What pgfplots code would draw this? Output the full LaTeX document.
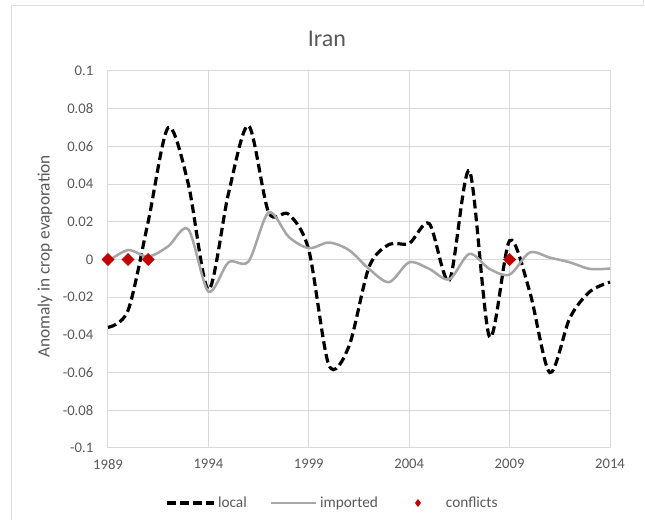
\documentclass[border=0pt]{standalone}
\usepackage{fontspec}
\setmainfont{Carlito}
\usepackage{pgfplots}
\pgfplotsset{compat=1.18}
\definecolor{txtgray}{HTML}{595959}
\definecolor{gridgray}{HTML}{D9D9D9}
\definecolor{impgray}{HTML}{A6A6A6}
\definecolor{confred}{HTML}{C00000}

\begin{document}
\begin{tikzpicture}
\path[use as bounding box] (-81pt,-54pt) rectangle (402.75pt,336pt);
% frame of the chart area
\draw[color=black!12, line width=0.75pt] (-72pt,-54pt) -- (-72pt,331.5pt) -- (401.25pt,331.5pt) -- (401.25pt,336pt);

\begin{axis}[
    scale only axis,
    width=376.5pt, height=282.75pt,
    xmin=1989, xmax=2014,
    ymin=-0.1, ymax=0.1,
    xtick={1989,1994,1999,2004,2009,2014},
    xticklabels={1989,1994,1999,2004,2009,2014},
    ytick={-0.1,-0.08,-0.06,-0.04,-0.02,0,0.02,0.04,0.06,0.08,0.1},
    yticklabels={-0.1,-0.08,-0.06,-0.04,-0.02,0,0.02,0.04,0.06,0.08,0.1},
    grid=major,
    major grid style={gridgray, line width=0.75pt},
    axis line style={gridgray, line width=0.75pt},
    major tick length=0pt,
    tick label style={font=\fontsize{11}{13}\selectfont, text=txtgray},
    xticklabel style={yshift=-5pt},
    yticklabel style={xshift=-7.5pt},
    title={Iran},
    title style={at={(axis description cs:0.436,1.063)}, anchor=center,
                 font=\fontsize{18}{20}\selectfont, text=txtgray},
    ylabel={Anomaly in crop evaporation},
    ylabel style={at={(axis description cs:-0.1255,0.508)}, anchor=center,
                  font=\fontsize{13}{15}\selectfont, text=txtgray},
    clip=false,
    legend columns=3,
    legend style={at={(0.448,-0.146)}, anchor=center, draw=none, fill=none,
                  font=\fontsize{11.5}{13}\selectfont, text=txtgray,
                  /tikz/every even column/.append style={column sep=15pt}},
]

% local
\addplot[black, line width=2.4pt, dash pattern=on 6.5pt off 3.2pt, smooth,
    legend image code/.code={\draw[black, line width=2.4pt, dash pattern=on 6.5pt off 3.2pt] (0pt,0pt) -- (35pt,0pt);}]
coordinates {
    (1989,-0.036) (1990,-0.027) (1991,0.020) (1992,0.070) (1993,0.040)
    (1994,-0.016) (1995,0.035) (1996,0.071) (1997,0.025) (1998,0.024)
    (1999,0.005) (2000,-0.056) (2001,-0.046) (2002,-0.004) (2003,0.008)
    (2004,0.0085) (2005,0.019) (2006,-0.011) (2007,0.047) (2008,-0.041)
    (2009,0.010) (2010,-0.017) (2011,-0.060) (2012,-0.031) (2013,-0.017)
    (2014,-0.012)
};
\addlegendentry{local}

% imported
\addplot[impgray, line width=1.9pt, smooth,
    legend image code/.code={\draw[impgray, line width=1.9pt] (0pt,0pt) -- (34pt,0pt);}]
coordinates {
    (1989,-0.001) (1990,0.005) (1991,0.0015) (1992,0.007) (1993,0.016)
    (1994,-0.017) (1995,-0.0015) (1996,-0.001) (1997,0.025) (1998,0.012)
    (1999,0.006) (2000,0.009) (2001,0.005) (2002,-0.005) (2003,-0.012)
    (2004,-0.0015) (2005,-0.005) (2006,-0.0105) (2007,0.003) (2008,-0.005)
    (2009,-0.008) (2010,0.0037) (2011,0.001) (2012,-0.0015) (2013,-0.005)
    (2014,-0.0048)
};
\addlegendentry{imported}

% conflicts
\addplot[only marks, mark=square*, mark size=3.2pt, color=confred,
    mark options={rotate=45},
    legend image code/.code={\path[draw=none, fill=none] (0pt,0pt) -- (32pt,0pt);
        \fill[confred, draw=none] (13pt,3pt) -- (15.25pt,0pt) -- (13pt,-3pt) -- (10.75pt,0pt) -- cycle;}]
coordinates {
    (1989,0) (1990,0) (1991,0) (2009,0)
};
\addlegendentry{conflicts}

\end{axis}
\end{tikzpicture}
\end{document}
